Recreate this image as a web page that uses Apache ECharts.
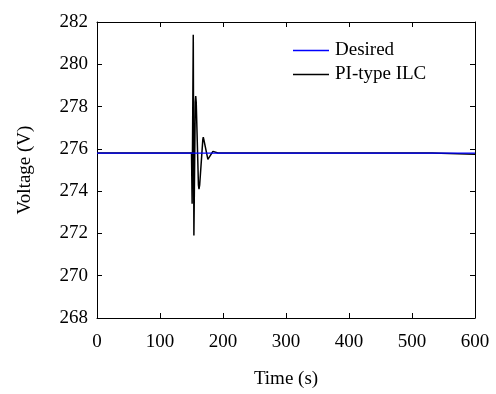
<!DOCTYPE html>
<html>
<head>
<meta charset="utf-8">
<script src="https://cdn.jsdelivr.net/npm/echarts@6/dist/echarts.min.js"></script>
<style>
  html, body { margin: 0; padding: 0; background: #fff; }
  #chart { width: 496px; height: 394px; }
</style>
</head>
<body>
<div id="chart"></div>
<script>
const xTicks = [0, 100, 200, 300, 400, 500, 600];
const yTicks = [268, 270, 272, 274, 276, 278, 280, 282];

const desiredTime = [0, 600];
const desiredVolt = [275.8, 275.8];

const ilcTime = [0, 150, 151, 152.8, 153.8, 156, 156.7, 157.5, 161, 161.9, 163, 168, 168.7, 169.5,
  176, 176.7, 177.5, 184, 184.6, 186, 192, 532, 533, 600];
const ilcVolt = [275.8, 275.8, 273.4, 281.4, 271.9, 278.2, 278.5, 278.2, 274.3, 274.1, 274.3, 276.45, 276.55, 276.45,
  275.5, 275.45, 275.5, 275.88, 275.9, 275.88, 275.8, 275.8, 275.75, 275.75];

const font = "'Liberation Serif', 'Times New Roman', serif";
const chart = echarts.init(document.getElementById("chart"));

const pairs = (xs, ys) => xs.map((x, i) => [x, ys[i]]);

const axisBase = {
  type: "value",
  axisLine: { show: true, onZero: false, lineStyle: { color: "#000", width: 1 } },
  axisTick: { show: true, inside: true, length: 5, lineStyle: { color: "#000" } },
  splitLine: { show: false }
};

const option = {
  animation: false,
  grid: { left: 97, right: 21, top: 22, bottom: 76, outerBoundsMode: "none" },
  legend: {
    orient: "vertical",
    left: 288,
    top: 36,
    itemWidth: 36,
    itemHeight: 1.5,
    itemGap: 5,
    icon: "rect",
    textStyle: { fontFamily: font, fontSize: 19, color: "#000", padding: [0, 0, 0, 1] },
    data: [
      { name: "Desired", itemStyle: { color: "#0000ff" } },
      { name: "PI-type ILC", itemStyle: { color: "#000" } }
    ]
  },
  xAxis: [
    Object.assign({}, axisBase, {
      min: 0, max: 600, interval: 100,
      name: "Time (s)",
      nameLocation: "middle",
      nameGap: 52,
      nameTextStyle: { fontFamily: font, fontSize: 19, color: "#000" },
      axisLabel: { margin: 15, fontFamily: font, fontSize: 19, color: "#000" }
    }),
    Object.assign({}, axisBase, {
      position: "top",
      min: 0, max: 600, interval: 100,
      axisLabel: { show: false }
    })
  ],
  yAxis: [
    Object.assign({}, axisBase, {
      min: 268, max: 282, interval: 2,
      name: "Voltage (V)",
      nameLocation: "middle",
      nameGap: 62,
      nameTextStyle: { fontFamily: font, fontSize: 19, color: "#000" },
      axisLabel: { margin: 9, fontFamily: font, fontSize: 19, color: "#000" }
    }),
    Object.assign({}, axisBase, {
      position: "right",
      min: 268, max: 282, interval: 2,
      axisLabel: { show: false }
    })
  ],
  series: [
    {
      name: "PI-type ILC",
      type: "line",
      showSymbol: false,
      z: 2,
      lineStyle: { color: "#000", width: 1.5 },
      itemStyle: { color: "#000" },
      data: pairs(ilcTime, ilcVolt)
    },
    {
      name: "Desired",
      type: "line",
      showSymbol: false,
      z: 3,
      lineStyle: { color: "#0000ff", width: 1.2 },
      itemStyle: { color: "#0000ff" },
      data: pairs(desiredTime, desiredVolt)
    }
  ]
};

chart.setOption(option);
</script>
</body>
</html>
